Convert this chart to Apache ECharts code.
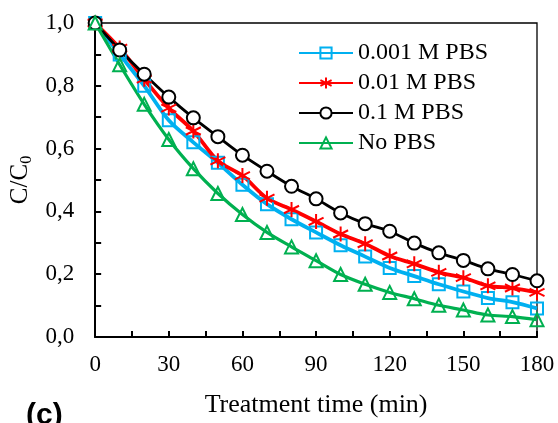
<!DOCTYPE html>
<html>
<head>
<meta charset="utf-8">
<script src="https://cdn.jsdelivr.net/npm/echarts@6/dist/echarts.min.js"></script>
<style>
  html, body { margin: 0; padding: 0; background: #fff; }
  #main { width: 558px; height: 423px; }
</style>
</head>
<body>
<div id="main"></div>
<script>
var times = [0, 10, 20, 30, 40, 50, 60, 70, 80, 90, 100, 110, 120, 130, 140, 150, 160, 170, 180];
var pbs0001 = [1.0, 0.90, 0.80, 0.69, 0.62, 0.555, 0.485, 0.423, 0.375, 0.333, 0.292, 0.256, 0.220, 0.194, 0.168, 0.145, 0.124, 0.111, 0.091];
var pbs001 = [1.0, 0.92, 0.821, 0.729, 0.656, 0.561, 0.514, 0.442, 0.406, 0.368, 0.328, 0.297, 0.258, 0.233, 0.206, 0.189, 0.163, 0.156, 0.142];
var pbs01 = [1.0, 0.914, 0.837, 0.764, 0.698, 0.638, 0.579, 0.528, 0.480, 0.440, 0.395, 0.361, 0.337, 0.299, 0.268, 0.244, 0.217, 0.199, 0.179];
var noPbs = [1.0, 0.867, 0.741, 0.629, 0.536, 0.457, 0.390, 0.333, 0.287, 0.243, 0.199, 0.168, 0.142, 0.122, 0.101, 0.086, 0.070, 0.065, 0.055];
var seriesNames = ['0.001 M PBS', '0.01 M PBS', '0.1 M PBS', 'No PBS'];

var font = 'Liberation Serif';
var star = 'path://M5,0L5,10M0.67,2.5L9.33,7.5M0.67,7.5L9.33,2.5';

function pairs(vals) {
  return times.map(function(t, i) { return [t, vals[i]]; });
}

function makeSeries(name, vals, color, symbol, size, lw, fill) {
  return {
    name: name,
    type: 'line',
    data: pairs(vals),
    smooth: 0.3,
    symbol: symbol,
    symbolSize: size,
    showAllSymbol: true,
    lineStyle: { color: color, width: lw },
    itemStyle: { color: fill, borderColor: color, borderWidth: 2 },
    emphasis: { disabled: true }
  };
}

var tickStyle = { color: '#000', width: 2 };

var myChart = echarts.init(document.getElementById('main'));
var option = {
  animation: false,
  backgroundColor: '#fff',
  grid: {
    left: 92, right: 21, top: 23, bottom: 77,
    show: true, borderColor: '#000', borderWidth: 1.3
  },
  legend: {
    orient: 'vertical',
    left: 298,
    top: 41,
    padding: 0,
    itemWidth: 54,
    itemHeight: 14,
    itemGap: 6,
    textStyle: { fontFamily: font, fontSize: 24, color: '#000', lineHeight: 24 },
    data: seriesNames
  },
  xAxis: {
    type: 'value',
    min: 0, max: 180, interval: 30,
    name: 'Treatment time (min)',
    nameLocation: 'middle',
    nameGap: 55,
    nameTextStyle: { fontFamily: font, fontSize: 26, color: '#000' },
    axisLine: { onZero: false, lineStyle: { color: '#000', width: 2 } },
    axisTick: { show: true, inside: true, length: 6, lineStyle: tickStyle },
    minorTick: { show: true, splitNumber: 2, length: 6, lineStyle: tickStyle },
    axisLabel: { fontFamily: font, fontSize: 23, color: '#000', margin: 16 },
    splitLine: { show: false }
  },
  yAxis: {
    type: 'value',
    min: 0, max: 1, interval: 0.2,
    name: 'C/C{s|0}',
    nameLocation: 'middle',
    nameGap: 55,
    nameRotate: 90,
    nameTextStyle: {
      fontFamily: font, fontSize: 25, color: '#000',
      rich: { s: { fontFamily: font, fontSize: 16, color: '#000', padding: [12, 0, 0, 0] } }
    },
    axisLine: { show: true, lineStyle: { color: '#000', width: 2 } },
    axisTick: { show: true, inside: true, length: 6, lineStyle: tickStyle },
    minorTick: { show: true, splitNumber: 2, length: 6, lineStyle: tickStyle },
    axisLabel: {
      fontFamily: font, fontSize: 23, color: '#000', margin: 21,
      formatter: function(v) { return v.toFixed(1).replace('.', ','); }
    },
    splitLine: { show: false }
  },
  graphic: [
    {
      type: 'text', left: 26, top: 401,
      style: { text: '(c)', font: 'bold 30px "Liberation Sans"', fill: '#000' }
    }
  ],
  series: [
    makeSeries(seriesNames[0], pbs0001, '#00B0F0', 'rect', 12, 3.8, 'none'),
    makeSeries(seriesNames[1], pbs001, '#FF0000', star, 15, 3.8, 'none'),
    makeSeries(seriesNames[2], pbs01, '#000000', 'circle', 13, 2.8, '#fff'),
    makeSeries(seriesNames[3], noPbs, '#00B050', 'triangle', 13, 3.2, 'none')
  ]
};
myChart.setOption(option);
</script>
</body>
</html>
